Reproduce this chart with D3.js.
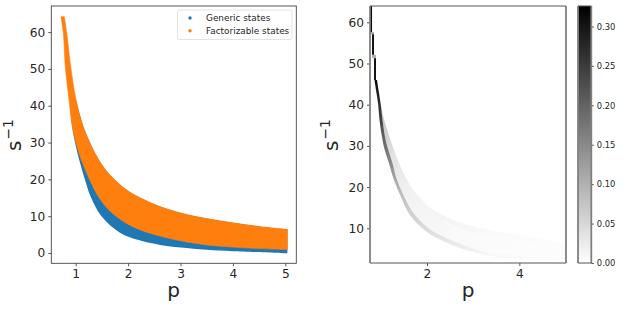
<!DOCTYPE html>
<html>
<head>
<meta charset="utf-8">
<script src="https://cdn.jsdelivr.net/npm/d3@7"></script>
<style>
  html, body { margin: 0; padding: 0; background: #fff; }
  svg { display: block; }
  text { font-family: "DejaVu Sans", sans-serif; fill: #262626; }
</style>
</head>
<body>
<script>
// Left panel: outline of each point cloud (p, 1/s).
const factUpperP = [0.782, 0.828, 0.905, 1.006, 1.145, 1.336, 1.5, 1.655, 1.973, 2.3, 2.609, 3, 3.5, 4, 4.5, 5, 5.04];
const factUpperS = [64.2, 59.8, 50.6, 41.6, 34.3, 28, 24, 21.2, 17.1, 14.5, 12.6, 10.87, 9.35, 8.2, 7.2, 6.44, 6.4];
const factLowerP = [0.719, 0.763, 0.802, 0.872, 0.935, 1.044, 1.158, 1.426, 1.655, 1.973, 2.3, 2.609, 3, 3.5, 4, 4.5, 5.04];
const factLowerS = [64.2, 59.8, 50.6, 41.6, 34.3, 28, 23.5, 15.5, 11.4, 8, 5.9, 4.6, 3.3, 2.2, 1.6, 1.2, 0.9];
const genericLowerP = [0.9, 0.93, 1.006, 1.082, 1.19, 1.286, 1.496, 1.845, 2.2, 2.609, 3, 3.5, 4, 5.04];
const genericLowerS = [38.9, 34.5, 28.8, 24.5, 19.3, 15.3, 9.9, 5.5, 3.5, 2.2, 1.5, 0.9, 0.5, -0.1];

const legendLabels = ["Generic states", "Factorizable states"];
const legendColors = ["#1f77b4", "#ff7f0e"];

// Right panel: blocks at the very top of the histogram.
const topP0 = [0.766, 0.766, 0.81, 0.81, 0.853];
const topP1 = [0.81, 0.853, 0.853, 0.896, 0.896];
const topS0 = [57.6, 57.1, 52.1, 51.3, 46];
const topS1 = [63.96, 57.6, 57.1, 52.1, 51.3];
const topV = [0.32, 0.12, 0.3, 0.1, 0.3];

// Dark ridge along the lower edge (one value per vertex).
const coreLowP = [0.864, 0.896, 0.939, 0.972, 1.026, 1.069, 1.177, 1.286, 1.437, 1.632, 2, 2.346, 2.714, 3.082, 3.364, 4.013, 4.619];
const coreLowS = [46, 43.6, 40.4, 36.3, 32.2, 29.7, 25.8, 21.7, 17.6, 13.2, 9.1, 6.9, 5.2, 4, 3.3, 2.5, 1.8];
const coreHighP = [0.918, 0.95, 0.994, 1.037, 1.091, 1.145, 1.253, 1.351, 1.491, 1.675, 2.022, 2.368, 2.736, 3.104, 3.385, 4.013, 4.619];
const coreHighS = [46, 43.6, 40.4, 36.3, 32.2, 29.7, 25.8, 21.7, 18.1, 14.2, 10.1, 7.9, 6.2, 4.7, 4, 3.3, 2.3];
const coreV = [0.31, 0.3, 0.27, 0.24, 0.2, 0.18, 0.15, 0.11, 0.08, 0.06, 0.045, 0.032, 0.024, 0.016, 0.01, 0.006, 0.003];

// Shading just above the ridge, starting from nothing at its top end.
const haloLowP = [0.994, 1.037, 1.091, 1.145, 1.253, 1.351, 1.491, 1.675, 2.022, 2.368];
const haloLowS = [40.4, 36.3, 32.2, 29.7, 25.8, 21.7, 18.1, 14.2, 10.1, 7.9];
const haloHighP = [0.994, 1.075, 1.188, 1.264, 1.394, 1.524, 1.675, 1.892, 2.195, 2.498];
const haloHighS = [40.4, 36.3, 32.2, 29.7, 25.8, 22.7, 19.8, 16.9, 13.2, 10.3];
const haloV = [0.06, 0.065, 0.055, 0.045, 0.032, 0.024, 0.018, 0.014, 0.012, 0.01];

// Wide faint band between the lower and upper edge.
const bandLowP = [1.069, 1.177, 1.286, 1.437, 1.632, 2, 2.346, 2.714, 3.082, 3.364, 4.013, 4.619, 5.01];
const bandLowS = [29.7, 25.8, 21.7, 17.6, 13.2, 9.1, 6.9, 5.2, 4, 3.3, 2.5, 1.8, 1.3];
const bandHighP = [1.264, 1.394, 1.502, 1.632, 1.784, 2, 2.346, 2.714, 3.082, 3.364, 4.446, 4.77, 5.01];
const bandHighS = [29.7, 25.8, 23, 20, 17.5, 15.2, 13.0, 11.4, 10.3, 9.6, 7.6, 6.6, 5.9];
const bandV = [0.03, 0.022, 0.016, 0.012, 0.01, 0.009, 0.008, 0.007, 0.006, 0.005, 0.004, 0.004, 0.003];

// Slightly darker second ridge inside the band, tapered at its top end.
const ridgeLowP = [1.589, 2, 2.346, 2.714, 3.082, 3.58, 5.01];
const ridgeLowS = [19.5, 14, 12, 10.1, 8.6, 7.9, 5.2];
const ridgeHighP = [1.589, 2.043, 2.39, 2.758, 3.126, 3.58, 5.01];
const ridgeHighS = [19.5, 15.2, 13, 11.2, 10.1, 9.1, 6.2];
const ridgeV = [0.016, 0.015, 0.014, 0.012, 0.009, 0.007, 0.004];

const colorbarTicks = [0, 0.05, 0.1, 0.15, 0.2, 0.25, 0.3];

const width = 623;
const height = 311;

const svg = d3
  .select("body")
  .append("svg")
  .attr("width", width)
  .attr("height", height)
  .attr("viewBox", [0, 0, width, height]);

const defs = svg.append("defs");

// Scales for both panels.
const xLeft = d3.scaleLinear([0.534, 5.21], [51.3, 296.3]);
const yLeft = d3.scaleLinear([-2.8, 67.1], [263.3, 6]);
const xRight = d3.scaleLinear([0.766, 5.01], [370, 566]);
const yRight = d3.scaleLinear([1.58, 63.96], [263, 6]);
const colorScale = d3.scaleLinear([0, 0.326], ["#ffffff", "#000000"]);
const yBar = d3.scaleLinear([0, 0.326], [263, 6]);

function zipped(ps, ss) {
  return ps.map((p, i) => [p, ss[i]]);
}

// Closed outline: smooth along one edge, then back along the other.
function outline(x, y, upper, lower) {
  const line = d3
    .line()
    .curve(d3.curveCatmullRom.alpha(0.5))
    .x((d) => x(d[0]))
    .y((d) => y(d[1]));
  const back = line(lower.slice().reverse()).replace("M", "L");
  return line(upper) + back + "Z";
}

// Left panel: generic cloud first, factorizable cloud on top.
const left = svg.append("g");
const upperEdge = zipped(factUpperP, factUpperS);
left
  .append("path")
  .attr("fill", legendColors[0])
  .attr("d", outline(xLeft, yLeft, upperEdge.slice(3), zipped(genericLowerP, genericLowerS)));
left
  .append("path")
  .attr("fill", legendColors[1])
  .attr("stroke", legendColors[1])
  .attr("stroke-width", 0.6)
  .attr("stroke-linejoin", "round")
  .attr("d", outline(xLeft, yLeft, upperEdge, zipped(factLowerP, factLowerS)));

function styleAxis(g, size) {
  g.select(".domain").remove();
  g.selectAll(".tick line").attr("stroke", "#555");
  g.selectAll(".tick text").attr("font-size", size).style("font-family", null);
  g.attr("font-family", null);
}

svg
  .append("g")
  .attr("transform", "translate(0,263.3)")
  .call(d3.axisBottom(xLeft).tickValues([1, 2, 3, 4, 5]).tickFormat(d3.format("d")).tickSize(3).tickPadding(3))
  .call(styleAxis, 12.2);
svg
  .append("g")
  .attr("transform", "translate(51.3,0)")
  .call(d3.axisLeft(yLeft).tickValues([0, 10, 20, 30, 40, 50, 60]).tickFormat(d3.format("d")).tickSize(3).tickPadding(3))
  .call(styleAxis, 12.2);

svg
  .append("rect")
  .attr("x", 51.3)
  .attr("y", 6)
  .attr("width", 245)
  .attr("height", 257.3)
  .attr("fill", "none")
  .attr("stroke", "#444")
  .attr("stroke-width", 0.9);

// Legend box, markers and labels.
const legend = svg.append("g");
legend
  .append("rect")
  .attr("x", 177.5)
  .attr("y", 10)
  .attr("width", 114.5)
  .attr("height", 29.5)
  .attr("rx", 2)
  .attr("fill", "#fff")
  .attr("stroke", "#dcdcdc")
  .attr("stroke-width", 0.8);
legendLabels.forEach((label, i) => {
  legend
    .append("circle")
    .attr("cx", 190)
    .attr("cy", 18 + i * 12.7)
    .attr("r", 1.7)
    .attr("fill", legendColors[i]);
  legend
    .append("text")
    .attr("x", 206)
    .attr("y", 21 + i * 12.7)
    .attr("font-size", 8.9)
    .text(label);
});

// Right panel: histogram painted strip by strip, faintest first.
const clip = defs.append("clipPath").attr("id", "heat-clip");
clip.append("rect").attr("x", 370).attr("y", 6).attr("width", 196).attr("height", 257);
const blur = defs.append("filter").attr("id", "soft");
blur.append("feGaussianBlur").attr("stdDeviation", 0.5);
const heat = svg.append("g").attr("clip-path", "url(#heat-clip)");
const heatSoft = heat.append("g").attr("filter", "url(#soft)");

// Each strip fades along the curve: the gradient runs corner to corner
// and each vertex sets one stop, placed by its projection on that line.
const gradientStart = [370, 6];
const gradientEnd = [566, 263];
function drawStrip(name, lowP, lowS, highP, highS, values) {
  const low = zipped(lowP, lowS);
  const high = zipped(highP, highS);
  const dx = gradientEnd[0] - gradientStart[0];
  const dy = gradientEnd[1] - gradientStart[1];
  const grad = defs
    .append("linearGradient")
    .attr("id", name)
    .attr("gradientUnits", "userSpaceOnUse")
    .attr("x1", gradientStart[0])
    .attr("y1", gradientStart[1])
    .attr("x2", gradientEnd[0])
    .attr("y2", gradientEnd[1]);
  values.forEach((v, i) => {
    const mx = (xRight(low[i][0]) + xRight(high[i][0])) / 2 - gradientStart[0];
    const my = (yRight(low[i][1]) + yRight(high[i][1])) / 2 - gradientStart[1];
    grad
      .append("stop")
      .attr("offset", (mx * dx + my * dy) / (dx * dx + dy * dy))
      .attr("stop-color", colorScale(v));
  });
  heatSoft
    .append("path")
    .attr("fill", `url(#${name})`)
    .attr("d", outline(xRight, yRight, high, low));
}

drawStrip("band", bandLowP, bandLowS, bandHighP, bandHighS, bandV);
drawStrip("ridge", ridgeLowP, ridgeLowS, ridgeHighP, ridgeHighS, ridgeV);
drawStrip("halo", haloLowP, haloLowS, haloHighP, haloHighS, haloV);
drawStrip("core", coreLowP, coreLowS, coreHighP, coreHighS, coreV);

heat
  .selectAll(".top-cell")
  .data(topV)
  .join("rect")
  .attr("class", "top-cell")
  .attr("x", (d, i) => xRight(topP0[i]))
  .attr("width", (d, i) => xRight(topP1[i]) - xRight(topP0[i]))
  .attr("y", (d, i) => yRight(topS1[i]))
  .attr("height", (d, i) => yRight(topS0[i]) - yRight(topS1[i]))
  .attr("fill", (d) => colorScale(d));

svg
  .append("g")
  .attr("transform", "translate(0,263)")
  .call(d3.axisBottom(xRight).tickValues([2, 4]).tickFormat(d3.format("d")).tickSize(3).tickPadding(3))
  .call(styleAxis, 12.2);
svg
  .append("g")
  .attr("transform", "translate(370,0)")
  .call(d3.axisLeft(yRight).tickValues([10, 20, 30, 40, 50, 60]).tickFormat(d3.format("d")).tickSize(3).tickPadding(3))
  .call(styleAxis, 12.2);

// Frame of the right panel: the sides look thicker than top and bottom.
function drawFrame(x0, x1, y0, y1) {
  [[x0, x0], [x1, x1]].forEach(([a, b]) => {
    svg.append("line").attr("x1", a).attr("x2", b).attr("y1", y0).attr("y2", y1)
      .attr("stroke", "#808080").attr("stroke-width", 1.8);
  });
  [y0, y1].forEach((y) => {
    svg.append("line").attr("x1", x0).attr("x2", x1).attr("y1", y).attr("y2", y)
      .attr("stroke", "#555").attr("stroke-width", 1);
  });
}
drawFrame(370, 566, 6, 263);

// Colorbar.
const gradient = defs
  .append("linearGradient")
  .attr("id", "bar-gradient")
  .attr("x1", 0)
  .attr("x2", 0)
  .attr("y1", 1)
  .attr("y2", 0);
gradient.append("stop").attr("offset", 0).attr("stop-color", colorScale(0));
gradient.append("stop").attr("offset", 1).attr("stop-color", colorScale(0.326));

svg
  .append("rect")
  .attr("x", 578)
  .attr("y", 6)
  .attr("width", 13.3)
  .attr("height", 257)
  .attr("fill", "url(#bar-gradient)");
svg
  .append("g")
  .attr("transform", "translate(591.3,0)")
  .call(d3.axisRight(yBar).tickValues(colorbarTicks).tickFormat(d3.format(".2f")).tickSize(2.5).tickPadding(3))
  .call(styleAxis, 8.4);
drawFrame(578, 591.3, 6, 263);

// Axis labels.
function xLabel(cx) {
  svg
    .append("text")
    .attr("x", cx)
    .attr("y", 297)
    .attr("text-anchor", "middle")
    .attr("font-size", 20)
    .text("p");
}
function yLabel(cx, cy) {
  const t = svg
    .append("text")
    .attr("transform", `translate(${cx},${cy}) rotate(-90)`)
    .attr("text-anchor", "middle")
    .attr("font-size", 20);
  t.append("tspan").text("s");
  t.append("tspan").attr("dy", -8).attr("dx", 1).attr("font-size", 14).text("\u22121");
}
xLabel(173.5);
xLabel(468);
yLabel(21, 135);
yLabel(338, 135);
</script>
</body>
</html>
